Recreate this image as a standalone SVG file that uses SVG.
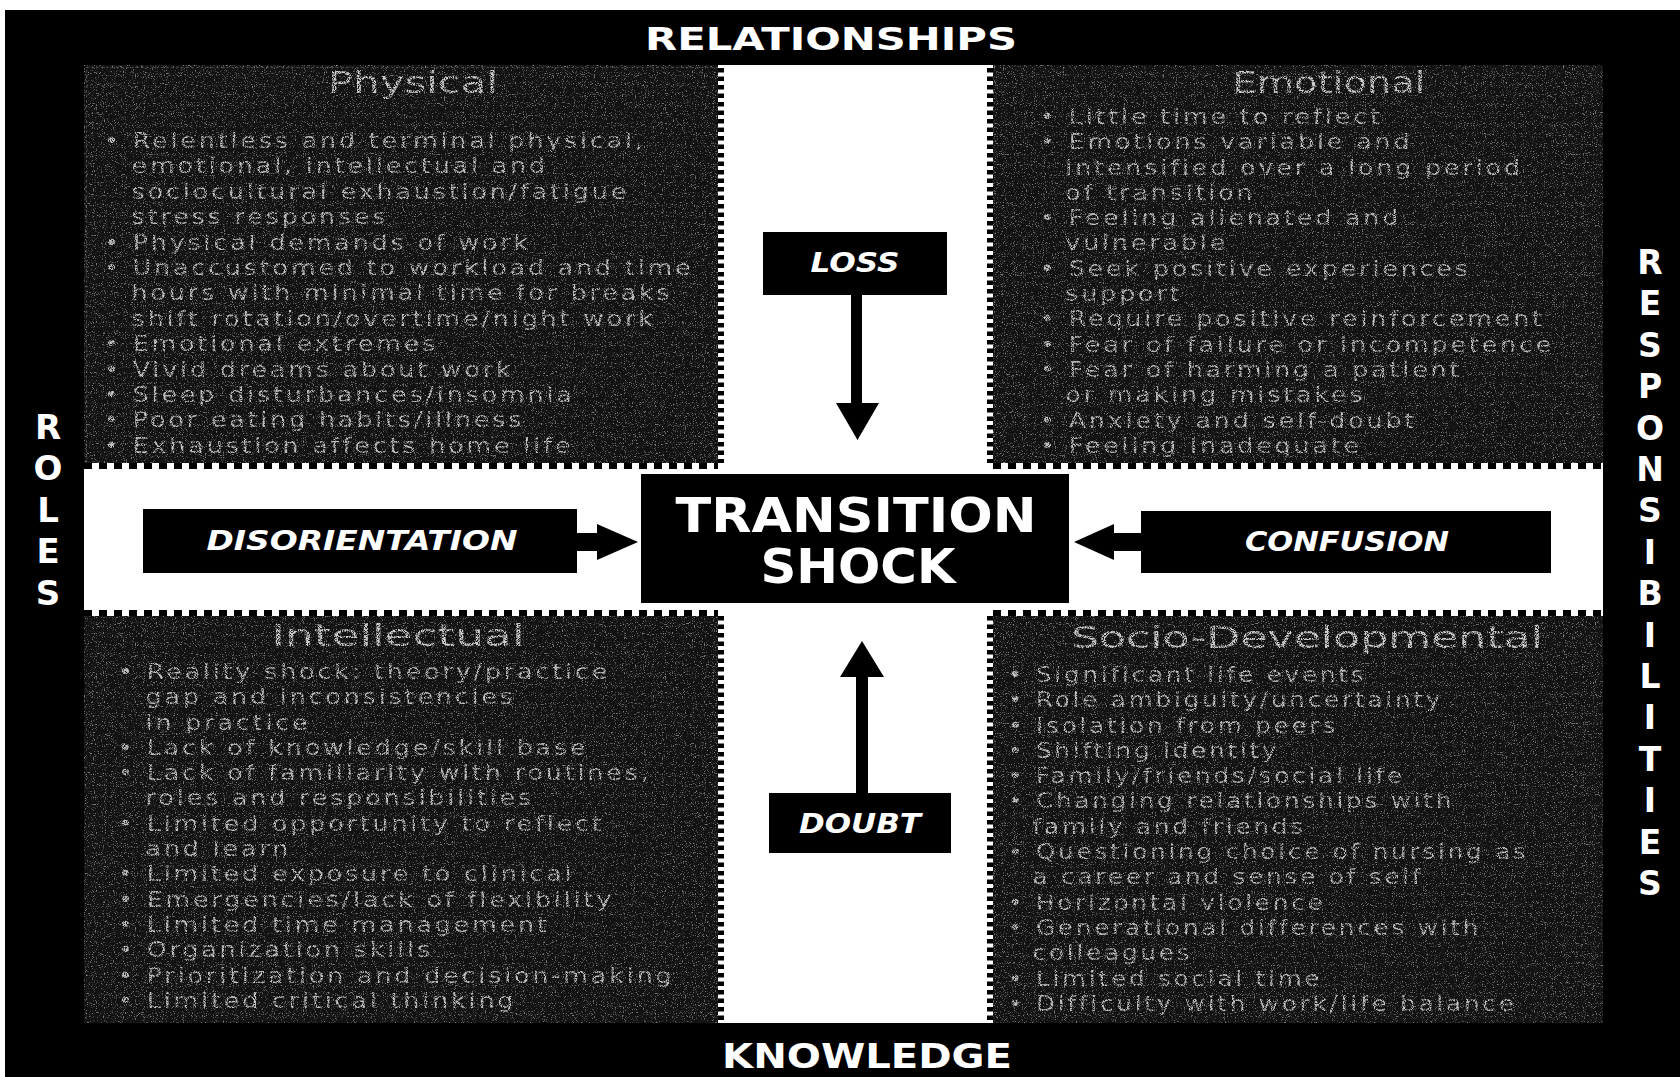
<svg xmlns="http://www.w3.org/2000/svg" width="1680" height="1077" viewBox="0 0 1680 1077">
  <defs>
    <!-- fine speckle used on the four quadrant panels -->
    <filter id="grain" x="0" y="0" width="1" height="1" filterUnits="objectBoundingBox">
      <feTurbulence type="fractalNoise" baseFrequency="0.9" numOctaves="2" seed="11" result="n"/>
      <feColorMatrix in="n" type="matrix" values="0 0 0 0 0.8  0 0 0 0 0.8  0 0 0 0 0.8  5 0 0 0 -2.85"/>
    </filter>
    <!-- breaks up the panel lettering into a dotted, worn look -->
    <filter id="worn" x="-5%" y="-5%" width="110%" height="110%">
      <feTurbulence type="fractalNoise" baseFrequency="1.3" numOctaves="1" seed="4" result="n"/>
      <feColorMatrix in="n" type="matrix" values="0 0 0 0 0  0 0 0 0 0  0 0 0 0 0  6 0 0 0 -2.3" result="m"/>
      <feComposite in="SourceGraphic" in2="m" operator="in"/>
    </filter>
    <style>
      .axis { font-family: "DejaVu Sans", Verdana, sans-serif; font-weight: bold; fill: #ffffff; }
      .label { font-family: "DejaVu Sans", Verdana, sans-serif; font-weight: bold; font-style: italic; fill: #ffffff; text-anchor: middle; }
      .core { font-family: "DejaVu Sans", Verdana, sans-serif; font-weight: bold; fill: #ffffff; text-anchor: middle; font-size: 48px; }
      .box { fill: #000000; }
      .panel { fill: #121212; }
      .speck { fill: #ffffff; filter: url(#grain); opacity: 0.5; }
      .frame { fill: none; stroke: #6a6a6a; stroke-width: 1; stroke-dasharray: 2 3; opacity: 0.7; }
      .title { font-family: "DejaVu Sans", Verdana, sans-serif; font-size: 30px; fill: #d0d0d0; text-anchor: middle; filter: url(#worn); }
      .body { font-family: "DejaVu Sans", Verdana, sans-serif; font-size: 22px; letter-spacing: 2.5px; fill: #c4c4c4; filter: url(#worn); }
      .teethH { stroke: #000000; stroke-width: 6; stroke-dasharray: 8 7; fill: none; }
      .teethV { stroke: #000000; stroke-width: 6; stroke-dasharray: 4.5 4; fill: none; }
      .arrow { fill: #000000; }
    </style>
  </defs>

  <!-- page and black frame -->
  <rect x="0" y="0" width="1680" height="1077" fill="#ffffff"/>
  <rect x="5" y="10" width="1675" height="1067" fill="#000000"/>

  <!-- axis captions -->
  <g id="axis-relationships">
    <text class="axis" x="831" y="50" font-size="32" text-anchor="middle" textLength="372" lengthAdjust="spacingAndGlyphs">RELATIONSHIPS</text>
  </g>
  <g id="axis-knowledge">
    <text class="axis" x="867" y="1068" font-size="34" text-anchor="middle" textLength="290" lengthAdjust="spacingAndGlyphs">KNOWLEDGE</text>
  </g>
  <g id="axis-roles" class="axis" font-size="34" text-anchor="middle">
    <text x="48" y="439">R</text>
    <text x="48" y="480">O</text>
    <text x="48" y="522">L</text>
    <text x="48" y="563">E</text>
    <text x="48" y="605">S</text>
  </g>
  <g id="axis-responsibilities" class="axis" font-size="33" text-anchor="middle">
    <text x="1650" y="274">R</text>
    <text x="1650" y="315">E</text>
    <text x="1650" y="357">S</text>
    <text x="1650" y="398">P</text>
    <text x="1650" y="440">O</text>
    <text x="1650" y="481">N</text>
    <text x="1650" y="522">S</text>
    <text x="1650" y="564">I</text>
    <text x="1650" y="605">B</text>
    <text x="1650" y="647">I</text>
    <text x="1650" y="688">L</text>
    <text x="1650" y="729">I</text>
    <text x="1650" y="771">T</text>
    <text x="1650" y="812">I</text>
    <text x="1650" y="854">E</text>
    <text x="1650" y="895">S</text>
  </g>

  <!-- quadrant: physical -->
  <g id="quadrant-physical">
    <rect class="panel" x="84" y="65" width="634" height="398"/>
    <rect class="speck" x="84" y="65" width="634" height="398"/>
    <rect class="frame" x="86.5" y="67.5" width="640" height="400"/>
    <text class="title" x="413" y="93" textLength="170" lengthAdjust="spacingAndGlyphs">Physical</text>
    <text class="body" transform="matrix(1.15 0 0 1 -15.6 0)">
      <tspan x="104" y="148">• Relentless and terminal physical,</tspan>
      <tspan x="128" y="173.4">emotional, intellectual and</tspan>
      <tspan x="128" y="198.8">sociocultural exhaustion/fatigue</tspan>
      <tspan x="128" y="224.2">stress responses</tspan>
      <tspan x="104" y="249.6">• Physical demands of work</tspan>
      <tspan x="104" y="275">• Unaccustomed to workload and time</tspan>
      <tspan x="128" y="300.4">hours with minimal time for breaks</tspan>
      <tspan x="128" y="325.8">shift rotation/overtime/night work</tspan>
      <tspan x="104" y="351.2">• Emotional extremes</tspan>
      <tspan x="104" y="376.6">• Vivid dreams about work</tspan>
      <tspan x="104" y="402">• Sleep disturbances/insomnia</tspan>
      <tspan x="104" y="427.4">• Poor eating habits/illness</tspan>
      <tspan x="104" y="452.8">• Exhaustion affects home life</tspan>
    </text>
  </g>

  <!-- quadrant: emotional -->
  <g id="quadrant-emotional">
    <rect class="panel" x="993" y="65" width="610" height="398"/>
    <rect class="speck" x="993" y="65" width="610" height="398"/>
    <text class="title" x="1329" y="93" textLength="193" lengthAdjust="spacingAndGlyphs">Emotional</text>
    <text class="body" transform="matrix(1.15 0 0 1 -156 0)">
      <tspan x="1040" y="124">• Little time to reflect</tspan>
      <tspan x="1040" y="149.3">• Emotions variable and</tspan>
      <tspan x="1062" y="174.6">intensified over a long period</tspan>
      <tspan x="1062" y="199.9">of transition</tspan>
      <tspan x="1040" y="225.2">• Feeling alienated and</tspan>
      <tspan x="1062" y="250.5">vulnerable</tspan>
      <tspan x="1040" y="275.8">• Seek positive experiences</tspan>
      <tspan x="1062" y="301.1">support</tspan>
      <tspan x="1040" y="326.4">• Require positive reinforcement</tspan>
      <tspan x="1040" y="351.7">• Fear of failure or incompetence</tspan>
      <tspan x="1040" y="377">• Fear of harming a patient</tspan>
      <tspan x="1062" y="402.3">or making mistakes</tspan>
      <tspan x="1040" y="427.6">• Anxiety and self-doubt</tspan>
      <tspan x="1040" y="452.9">• Feeling inadequate</tspan>
    </text>
  </g>

  <!-- quadrant: intellectual -->
  <g id="quadrant-intellectual">
    <rect class="panel" x="84" y="616" width="634" height="407"/>
    <rect class="speck" x="84" y="616" width="634" height="407"/>
    <text class="title" x="398" y="646" textLength="253" lengthAdjust="spacingAndGlyphs">Intellectual</text>
    <text class="body" transform="matrix(1.15 0 0 1 -17.7 0)">
      <tspan x="118" y="679">• Reality shock: theory/practice</tspan>
      <tspan x="142" y="704.3">gap and inconsistencies</tspan>
      <tspan x="142" y="729.6">in practice</tspan>
      <tspan x="118" y="754.9">• Lack of knowledge/skill base</tspan>
      <tspan x="118" y="780.2">• Lack of familiarity with routines,</tspan>
      <tspan x="142" y="805.5">roles and responsibilities</tspan>
      <tspan x="118" y="830.8">• Limited opportunity to reflect</tspan>
      <tspan x="142" y="856.1">and learn</tspan>
      <tspan x="118" y="881.4">• Limited exposure to clinical</tspan>
      <tspan x="118" y="906.7">• Emergencies/lack of flexibility</tspan>
      <tspan x="118" y="932">• Limited time management</tspan>
      <tspan x="118" y="957.3">• Organization skills</tspan>
      <tspan x="118" y="982.6">• Prioritization and decision-making</tspan>
      <tspan x="118" y="1007.9">• Limited critical thinking</tspan>
    </text>
  </g>

  <!-- quadrant: socio-developmental -->
  <g id="quadrant-socio-developmental">
    <rect class="panel" x="993" y="616" width="610" height="407"/>
    <rect class="speck" x="993" y="616" width="610" height="407"/>
    <text class="title" x="1307" y="648" textLength="472" lengthAdjust="spacingAndGlyphs">Socio-Developmental</text>
    <text class="body" transform="matrix(1.12 0 0 1 -121 0)">
      <tspan x="1008" y="682">• Significant life events</tspan>
      <tspan x="1008" y="707.3">• Role ambiguity/uncertainty</tspan>
      <tspan x="1008" y="732.6">• Isolation from peers</tspan>
      <tspan x="1008" y="757.9">• Shifting identity</tspan>
      <tspan x="1008" y="783.2">• Family/friends/social life</tspan>
      <tspan x="1008" y="808.5">• Changing relationships with</tspan>
      <tspan x="1030" y="833.8">family and friends</tspan>
      <tspan x="1008" y="859.1">• Questioning choice of nursing as</tspan>
      <tspan x="1030" y="884.4">a career and sense of self</tspan>
      <tspan x="1008" y="909.7">• Horizontal violence</tspan>
      <tspan x="1008" y="935">• Generational differences with</tspan>
      <tspan x="1030" y="960.3">colleagues</tspan>
      <tspan x="1008" y="985.6">• Limited social time</tspan>
      <tspan x="1008" y="1010.9">• Difficulty with work/life balance</tspan>
    </text>
  </g>

  <!-- white cross between the quadrants, with perforated edges -->
  <g id="cross">
    <rect x="84" y="463" width="1519" height="153" fill="#ffffff"/>
    <rect x="718" y="65" width="275" height="958" fill="#ffffff"/>
    <path class="teethH" d="M84 466H718M993 466H1603M84 613H718M993 613H1603"/>
    <path class="teethV" d="M721 68V463M990 68V463M721 616V1023M990 616V1023"/>
  </g>

  <!-- central node -->
  <g id="node-transition-shock">
    <rect class="box" x="641" y="474" width="428" height="129"/>
    <text class="core" x="856" y="532" textLength="361" lengthAdjust="spacingAndGlyphs">TRANSITION</text>
    <text class="core" x="858" y="583" textLength="195" lengthAdjust="spacingAndGlyphs">SHOCK</text>
  </g>

  <g id="node-loss">
    <rect class="box" x="763" y="232" width="184" height="63"/>
    <text class="label" x="855" y="272" font-size="26" textLength="89" lengthAdjust="spacingAndGlyphs">LOSS</text>
  </g>

  <g id="node-doubt">
    <rect class="box" x="769" y="793" width="182" height="60"/>
    <text class="label" x="860" y="833" font-size="26" textLength="122" lengthAdjust="spacingAndGlyphs">DOUBT</text>
  </g>

  <g id="node-disorientation">
    <rect class="box" x="143" y="509" width="434" height="64"/>
    <text class="label" x="362" y="550" font-size="27" textLength="311" lengthAdjust="spacingAndGlyphs">DISORIENTATION</text>
  </g>

  <g id="node-confusion">
    <rect class="box" x="1141" y="511" width="410" height="62"/>
    <text class="label" x="1347" y="551" font-size="27" textLength="204" lengthAdjust="spacingAndGlyphs">CONFUSION</text>
  </g>

  <!-- connectors: block arrows pointing at the central node -->
  <g id="connectors">
    <polygon class="arrow" points="851,295 862,295 862,403 879,403 857.5,440 836,403 851,403"/>
    <polygon class="arrow" points="856,793 868,793 868,677 884,677 862,641 840,677 856,677"/>
    <polygon class="arrow" points="577,533 597,533 597,524 638,542 597,560 597,551 577,551"/>
    <polygon class="arrow" points="1141,533 1114,533 1114,524 1074,542 1114,560 1114,551 1141,551"/>
  </g>
</svg>
